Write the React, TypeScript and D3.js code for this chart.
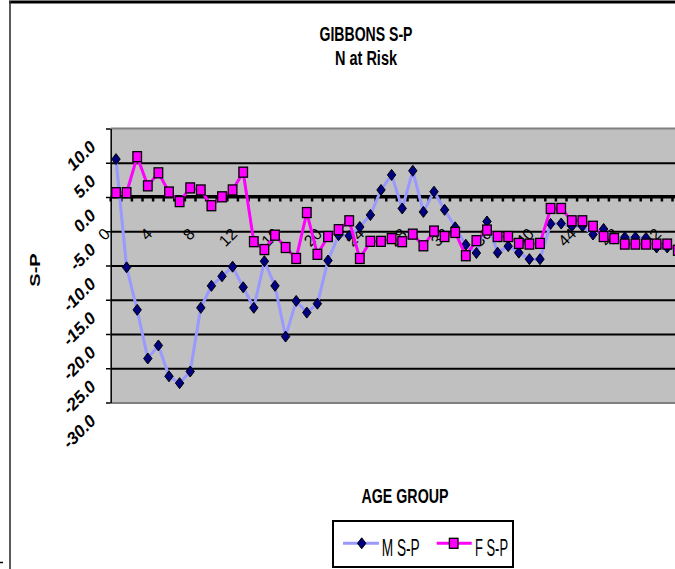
import React from "react";
import * as d3 from "d3";

const categories = [0,1,2,3,4,5,6,7,8,9,10,11,12,13,14,15,16,17,18,19,20,21,22,23,24,25,26,27,28,29,30,31,32,33,34,35,36,37,38,39,40,41,42,43,44,45,46,47,48,49,50,51,52,53];
const mValues = [5.6,-10.2,-16.4,-23.5,-21.6,-26.1,-27.1,-25.4,-16.1,-12.9,-11.5,-10.1,-13.1,-16.1,-9.3,-12.9,-20.3,-15.1,-16.8,-15.5,-9.2,-5.5,-5.6,-4.3,-2.55,1.1,3.3,-1.6,3.9,-2.1,0.85,-1.8,-4.35,-6.9,-8.1,-3.5,-8.05,-7.1,-8.05,-9.0,-9.0,-3.85,-3.8,-4.2,-4.2,-5.4,-4.6,-6.0,-5.8,-5.8,-5.9,-7.3,-7.3,-7.5];
const fValues = [0.7,0.7,5.96,1.7,3.6,0.8,-0.6,1.4,1.1,-1.2,0.1,1.1,3.7,-6.45,-7.6,-5.5,-7.3,-8.9,-2.2,-8.3,-5.7,-4.7,-3.4,-8.9,-6.4,-6.4,-6.0,-6.45,-5.35,-7.05,-4.9,-5.7,-5.1,-8.5,-6.3,-4.75,-5.7,-5.7,-6.7,-6.8,-6.7,-1.6,-1.6,-3.4,-3.4,-4.2,-5.7,-6.0,-6.8,-6.8,-6.8,-6.8,-6.8,-7.7];
const yTicks = [10,5,0,-5,-10,-15,-20,-25,-30];
const xLabelled = [0,4,8,12,16,20,24,28,32,36,40,44,48,52];
const seriesNames = ["M S-P","F S-P"];

const FONT = "'Liberation Sans', Arial, sans-serif";

export default function App() {
  const left = 110.7;
  const step = 10.6;
  const x = d3.scaleBand<number>().domain(categories).range([left, left + categories.length * step]).paddingInner(0).paddingOuter(0);
  const y = d3.scaleLinear().domain([-30, 10]).range([403, 129]);
  const cx = (c: number) => (x(c) as number) + x.bandwidth() / 2;
  const right = left + categories.length * step;

  const line = d3.line<number>().x((_, i) => cx(categories[i])).y((v) => y(v));
  const diamond = "M0,-5.5L4.2,0L0,5.5L-4.2,0Z";

  return (
    <svg width={675} height={569} style={{ position: "absolute", left: 0, top: 0, background: "#fff" }}>
      {/* outer chart frame */}
      <line x1={9} x2={675} y1={2} y2={2} stroke="#000" strokeWidth={3} />
      <line x1={10} x2={10} y1={1} y2={569} stroke="#333" strokeWidth={1.6} />
      <line x1={0} x2={3} y1={562.5} y2={562.5} stroke="#000" strokeWidth={1.5} />

      {/* titles */}
      <text x={366} y={41} textAnchor="middle" fontFamily={FONT} fontWeight="bold" fontSize={19.5} textLength={93} lengthAdjust="spacingAndGlyphs">GIBBONS S-P</text>
      <text x={366} y={65} textAnchor="middle" fontFamily={FONT} fontWeight="bold" fontSize={19.5} textLength={62} lengthAdjust="spacingAndGlyphs">N at Risk</text>

      {/* plot area */}
      <rect x={left} y={y(10)} width={right - left} height={y(-30) - y(10)} fill="#C0C0C0" />
      <line x1={left} x2={right} y1={y(10) - 0.5} y2={y(10) - 0.5} stroke="#808080" strokeWidth={2} />
      <line x1={left} x2={right} y1={y(-30)} y2={y(-30)} stroke="#808080" strokeWidth={2} />
      {yTicks.filter((t) => t !== 10 && t !== -30 && t !== 0).map((t) => (
        <line key={"g" + t} x1={left} x2={right} y1={y(t)} y2={y(t)} stroke="#000" strokeWidth={2} />
      ))}

      {/* value axis */}
      <line x1={left + 0.5} x2={left + 0.5} y1={y(10)} y2={y(-30)} stroke="#000" strokeWidth={1.5} />
      {yTicks.map((t) => (
        <line key={"yt" + t} x1={106} x2={left} y1={y(t)} y2={y(t)} stroke="#000" strokeWidth={1.5} />
      ))}
      {yTicks.map((t) => (
        <text key={"yl" + t} transform={`translate(97,${y(t) + 19}) rotate(-45)`} textAnchor="end" fontFamily={FONT} fontWeight="bold" fontStyle="italic" fontSize={17}>
          {t.toFixed(1)}
        </text>
      ))}
      <text transform="translate(40,270) scale(0.75,1) rotate(-90)" textAnchor="middle" fontFamily={FONT} fontWeight="bold" fontSize={20}>S-P</text>

      {/* category axis at 0 */}
      <line x1={left} x2={right} y1={y(0) - 0.7} y2={y(0) - 0.7} stroke="#000" strokeWidth={3.5} />
      {categories.map((c) => (
        <line key={"xt" + c} x1={x(c) as number} x2={x(c) as number} y1={y(0)} y2={y(0) + 4} stroke="#000" strokeWidth={2.5} />
      ))}
      {xLabelled.map((c) => (
        <text key={"xl" + c} transform={`translate(${cx(c) - 5},${235}) rotate(-45)`} textAnchor="end" fontFamily={FONT} fontSize={16}>
          {String(c)}
        </text>
      ))}

      {/* M series */}
      <path d={line(mValues) || ""} fill="none" stroke="#9999FF" strokeWidth={3} />
      {mValues.map((v, i) => (
        <path key={"m" + i} d={diamond} transform={`translate(${cx(categories[i])},${y(v)})`} fill="#000080" stroke="#000" strokeWidth={1} />
      ))}

      {/* F series */}
      <path d={line(fValues) || ""} fill="none" stroke="#FF00FF" strokeWidth={3} />
      {fValues.map((v, i) => (
        <rect key={"f" + i} x={cx(categories[i]) - 4.3} y={y(v) - 5} width={8.6} height={10} fill="#FF00FF" stroke="#000" strokeWidth={1.3} />
      ))}

      {/* axis title */}
      <text x={405} y={503} textAnchor="middle" fontFamily={FONT} fontWeight="bold" fontSize={20} textLength={87} lengthAdjust="spacingAndGlyphs">AGE GROUP</text>

      {/* legend */}
      <rect x={333} y={521} width={180} height={46} fill="#fff" stroke="#000" strokeWidth={2} />
      <line x1={343} x2={379} y1={543.3} y2={543.3} stroke="#9999FF" strokeWidth={3} />
      <path d={diamond} transform="translate(361.7,543.3)" fill="#000080" stroke="#000" strokeWidth={1} />
      <text x={381.7} y={556} fontFamily={FONT} fontSize={23} textLength={38} lengthAdjust="spacingAndGlyphs">{seriesNames[0]}</text>
      <line x1={436.7} x2={471.7} y1={543.3} y2={543.3} stroke="#FF00FF" strokeWidth={3} />
      <rect x={453.7 - 4.3} y={538.3} width={8.6} height={10} fill="#FF00FF" stroke="#000" strokeWidth={1.3} />
      <text x={475} y={556} fontFamily={FONT} fontSize={23} textLength={33} lengthAdjust="spacingAndGlyphs">{seriesNames[1]}</text>
    </svg>
  );
}
